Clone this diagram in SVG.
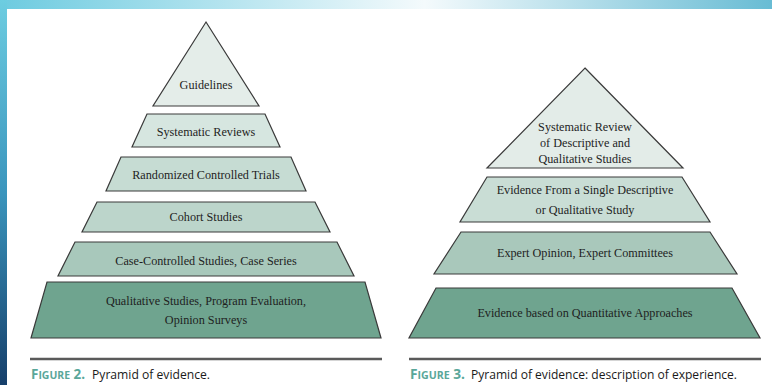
<svg xmlns="http://www.w3.org/2000/svg" width="772" height="385" viewBox="0 0 772 385">
<defs>
<linearGradient id="gTop" x1="0" y1="0" x2="1" y2="0">
<stop offset="0" stop-color="#6dcbe0"/>
<stop offset="0.55" stop-color="#f4fafc"/>
<stop offset="1" stop-color="#68bcd4"/>
</linearGradient>
<linearGradient id="gLeft" x1="0" y1="0" x2="0" y2="1">
<stop offset="0" stop-color="#6dcde1"/>
<stop offset="0.5" stop-color="#3a95bd"/>
<stop offset="1" stop-color="#163f6a"/>
</linearGradient>
<style>
.s{stroke:#3a3a3a;stroke-width:1.2;stroke-linejoin:miter}
.t{font-family:"Liberation Serif","Times New Roman",serif;font-size:12.2px;fill:#1e1e1e;text-anchor:middle}
.sep{stroke:#5a5a5a;stroke-width:2.5}
.cap{font-family:"Open Sans","Liberation Sans",sans-serif;font-size:13.5px;fill:#1a1a1a}
.fig{font-family:"Open Sans","Liberation Sans",sans-serif;font-size:13.5px;fill:#5aa79a;font-weight:bold}
</style>
</defs>
<rect x="0" y="0" width="772" height="385" fill="#ffffff"/>
<rect x="0" y="0" width="772" height="9" fill="url(#gTop)"/>
<rect x="0" y="0" width="7" height="385" fill="url(#gLeft)"/>

<g id="left-pyramid">
<g id="l1"><polygon class="s" points="206,22 259,106 153,106" fill="#e4ede9"/><text class="t" x="206" y="89">Guidelines</text></g>
<g id="l2"><polygon class="s" points="147,114 265,114 280,147 132,147" fill="#d6e6e0"/><text class="t" x="206" y="136">Systematic Reviews</text></g>
<g id="l3"><polygon class="s" points="121,157 291,157 306,191 106,191" fill="#c6dcd3"/><text class="t" x="206" y="179">Randomized Controlled Trials</text></g>
<g id="l4"><polygon class="s" points="97,202 315,202 330,232 82,232" fill="#bcd5cb"/><text class="t" x="206" y="221">Cohort Studies</text></g>
<g id="l5"><polygon class="s" points="75,242 337,242 354,276 58,276" fill="#a8c8bb"/><text class="t" x="206" y="265">Case-Controlled Studies, Case Series</text></g>
<g id="l6"><polygon class="s" points="47,282 365,282 381,338 31,338" fill="#6fa48f"/><text class="t" x="206" y="305">Qualitative Studies, Program Evaluation,</text><text class="t" x="206" y="324">Opinion Surveys</text></g>
</g>

<g id="right-pyramid">
<g id="r1"><polygon class="s" points="585,68 683,168 487,168" fill="#e3ece8"/><text class="t" x="585" y="131">Systematic Review</text><text class="t" x="585" y="147">of Descriptive and</text><text class="t" x="585" y="163">Qualitative Studies</text></g>
<g id="r2"><polygon class="s" points="487,177 682,177 710,222 460,222" fill="#c9ddd5"/><text class="t" x="585" y="194">Evidence From a Single Descriptive</text><text class="t" x="585" y="214">or Qualitative Study</text></g>
<g id="r3"><polygon class="s" points="461,232 710,232 737,274 434,274" fill="#a9c8bb"/><text class="t" x="585" y="257">Expert Opinion, Expert Committees</text></g>
<g id="r4"><polygon class="s" points="436,288 732,288 760,338 409,338" fill="#6fa48f"/><text class="t" x="585" y="317">Evidence based on Quantitative Approaches</text></g>
</g>

<g id="captions">
<line class="sep" x1="30" y1="359" x2="382" y2="359"/>
<line class="sep" x1="409" y1="359" x2="761" y2="359"/>
<text class="fig" x="31" y="379" textLength="54" lengthAdjust="spacingAndGlyphs">F<tspan font-size="10.5">IGURE</tspan> 2.</text>
<text class="cap" x="92" y="379" textLength="118" lengthAdjust="spacingAndGlyphs">Pyramid of evidence.</text>
<text class="fig" x="410" y="379" textLength="55" lengthAdjust="spacingAndGlyphs">F<tspan font-size="10.5">IGURE</tspan> 3.</text>
<text class="cap" x="471" y="379" textLength="266" lengthAdjust="spacingAndGlyphs">Pyramid of evidence: description of experience.</text>
</g>
</svg>
